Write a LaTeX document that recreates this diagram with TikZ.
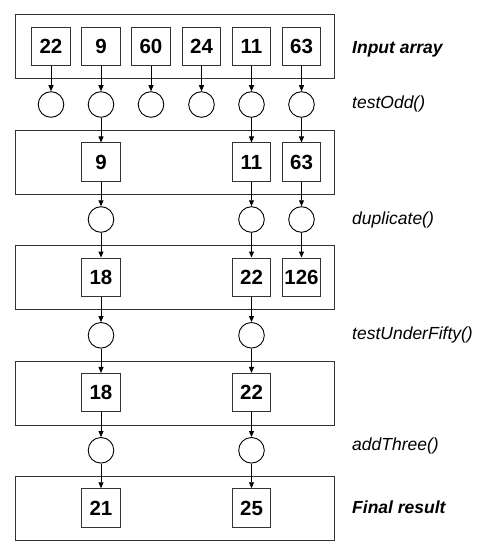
\documentclass[tikz,border=0pt]{standalone}
\usepackage{fontspec}
\setmainfont{Liberation Sans}
\usetikzlibrary{arrows.meta}
\begin{document}
\begin{tikzpicture}[x=1pt,y=-1pt,
  stage/.style={draw=black!80,line width=1pt},
  valbox/.style={draw=black!80,line width=1pt,minimum size=38.5pt,inner sep=0pt,font=\fontsize{20.5}{20.5}\selectfont\bfseries},
  filt/.style={draw=black,line width=0.9pt,circle,minimum size=25.6pt,inner sep=0pt},
  flow/.style={draw=black,line width=0.9pt,-{Triangle[length=6pt,width=5pt]}},
  lbl/.style={anchor=west,inner sep=0pt,font=\fontsize{17.5}{17.5}\selectfont\itshape},
  lblb/.style={lbl,font=\fontsize{17.5}{17.5}\selectfont\itshape\bfseries}]
\useasboundingbox (0,0) rectangle (492,556);
% stage rectangles
\draw[stage] (15.3,15) rectangle (334,79);
\draw[stage] (15.3,130.3) rectangle (334,194.3);
\draw[stage] (15.3,245.3) rectangle (334,309.7);
\draw[stage] (15.3,361.3) rectangle (334,425);
\draw[stage] (15.3,476.7) rectangle (334,540);
% row 1
\node[valbox] (a1) at (51,46.7) {22};
\node[valbox] (a2) at (101,46.7) {9};
\node[valbox] (a3) at (151,46.7) {60};
\node[valbox] (a4) at (201.5,46.7) {24};
\node[valbox] (a5) at (251.5,46.7) {11};
\node[valbox] (a6) at (301.5,46.7) {63};
% circles testOdd
\foreach \i/\x in {1/51,2/101,3/151,4/201.5,5/251.5,6/301.5}{
  \node[filt] (c1\i) at (\x,104.5) {};
  \draw[flow] (a\i) -- (c1\i);
}
% row 2
\node[valbox] (b2) at (101,162.2) {9};
\node[valbox] (b5) at (251.5,162.2) {11};
\node[valbox] (b6) at (301.5,162.2) {63};
\draw[flow] (c12) -- (b2);
\draw[flow] (c15) -- (b5);
\draw[flow] (c16) -- (b6);
% circles duplicate
\node[filt] (c22) at (101,219.5) {};
\node[filt] (c25) at (251.5,219.5) {};
\node[filt] (c26) at (301.5,219.5) {};
\draw[flow] (b2) -- (c22);
\draw[flow] (b5) -- (c25);
\draw[flow] (b6) -- (c26);
% row 3
\node[valbox] (d2) at (101,277.3) {18};
\node[valbox] (d5) at (251.5,277.3) {22};
\node[valbox] (d6) at (301.5,277.3) {126};
\draw[flow] (c22) -- (d2);
\draw[flow] (c25) -- (d5);
\draw[flow] (c26) -- (d6);
% circles testUnderFifty
\node[filt] (c32) at (101,335.3) {};
\node[filt] (c35) at (251.5,335.3) {};
\draw[flow] (d2) -- (c32);
\draw[flow] (d5) -- (c35);
% row 4
\node[valbox] (e2) at (101,392.7) {18};
\node[valbox] (e5) at (251.5,392.7) {22};
\draw[flow] (c32) -- (e2);
\draw[flow] (c35) -- (e5);
% circles addThree
\node[filt] (c42) at (101,450.3) {};
\node[filt] (c45) at (251.5,450.3) {};
\draw[flow] (e2) -- (c42);
\draw[flow] (e5) -- (c45);
% row 5
\node[valbox] (f2) at (101,508) {21};
\node[valbox] (f5) at (251.5,508) {25};
\draw[flow] (c42) -- (f2);
\draw[flow] (c45) -- (f5);
% labels
\node[lblb] (l1) at (352,49.5) {Input array};
\node[lbl] (l2) at (352,104) {testOdd()};
\node[lbl] (l3) at (352,220) {duplicate()};
\node[lbl] (l4) at (352,335) {testUnderFifty()};
\node[lbl] (l5) at (352,446) {addThree()};
\node[lblb] (l6) at (352,507) {Final result};
\end{tikzpicture}
\end{document}
